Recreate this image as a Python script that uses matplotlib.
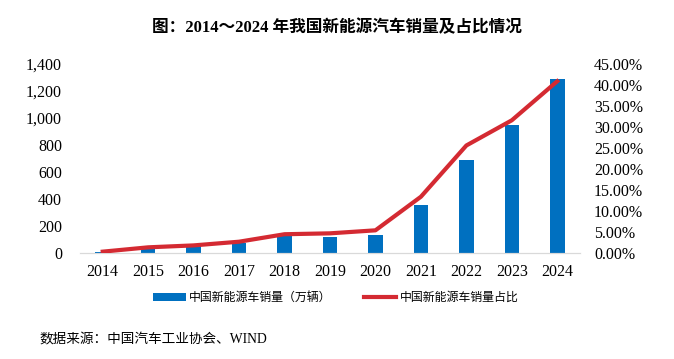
import matplotlib.pyplot as plt
import numpy as np
from matplotlib.ticker import FuncFormatter

# 数据
years = ['2014', '2015', '2016', '2017', '2018', '2019', '2020', '2021', '2022', '2023', '2024']
sales = [7.5, 33.1, 50.7, 77.7, 125.6, 120.6, 136.7, 352.1, 688.7, 949.5, 1286.6]
share = [0.32, 1.35, 1.81, 2.69, 4.47, 4.68, 5.40, 13.40, 25.60, 31.60, 40.90]

serif = ['Liberation Serif', 'Noto Sans CJK SC']
cjk = ['Liberation Serif', 'Noto Sans CJK SC']

fig = plt.figure(figsize=(6.74, 3.59), dpi=100)
ax = fig.add_axes([80 / 674, 1 - 253 / 359, 500 / 674, 189 / 359])
ax2 = ax.twinx()

x = np.arange(len(years))
bars = ax.bar(x, sales, width=0.32, color='#0070C0', label='中国新能源车销量（万辆）', zorder=2)
line, = ax2.plot(x, share, color='#D42A32', linewidth=3, label='中国新能源车销量占比', zorder=3)

ax.set_xlim(-0.5, len(years) - 0.5)
ax.set_ylim(0, 1400)
ax.set_yticks(range(0, 1401, 200))
ax.yaxis.set_major_formatter(FuncFormatter(lambda v, p: f'{int(v):,}'))
ax2.set_ylim(0, 45)
ax2.set_yticks(np.arange(0, 45.1, 5))
ax2.yaxis.set_major_formatter(FuncFormatter(lambda v, p: f'{v:.2f}%'))

ax.set_xticks(x)
ax.set_xticklabels(years)

for a in (ax, ax2):
    for s in ('top', 'left', 'right'):
        a.spines[s].set_visible(False)
    a.spines['bottom'].set_color('#D9D9D9')
    a.tick_params(length=0, labelsize=11.5)
    for lab in a.get_xticklabels() + a.get_yticklabels():
        lab.set_family(serif)
ax.tick_params(axis='y', pad=13)
ax.tick_params(axis='x', pad=8)
ax2.tick_params(axis='y', pad=10)

ax.set_zorder(ax2.get_zorder() - 1)
ax2.patch.set_visible(False)

fig.legend([bars, line], ['中国新能源车销量（万辆）', '中国新能源车销量占比'],
           loc='center', bbox_to_anchor=(336 / 674, 1 - 298 / 359), ncol=2,
           frameon=False, prop={'family': cjk, 'size': 8.6}, columnspacing=2.7,
           handlelength=2.7, handletextpad=0.3)

fig.text(337 / 674, 1 - 28 / 359, '图：2014～2024 年我国新能源汽车销量及占比情况',
         ha='center', va='center', fontsize=12, fontweight='bold', family=cjk)
fig.text(39 / 674, 1 - 340 / 359, '数据来源：中国汽车工业协会、WIND',
         ha='left', va='center', fontsize=9.8, family=cjk)

fig.savefig('out.png', dpi=100)
